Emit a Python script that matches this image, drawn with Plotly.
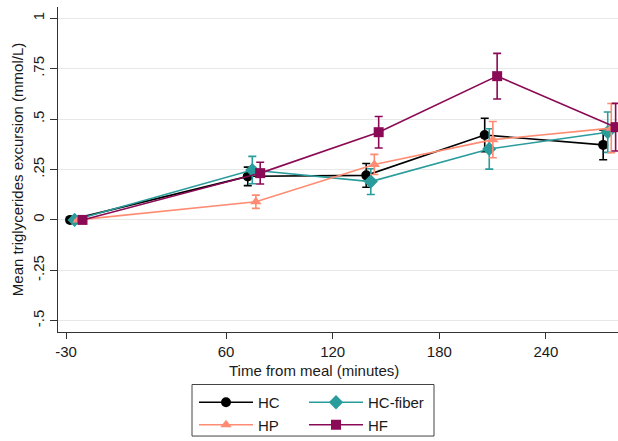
import plotly.graph_objects as go

# ---- data ----
times = [-30, 60, 120, 180, 240]
series_names = ["HC", "HC-fiber", "HP", "HF"]
hc_mean = [0.0, 0.216, 0.221, 0.421, 0.372]
hc_err = [0.0, 0.046, 0.059, 0.083, 0.074]
hcf_mean = [0.0, 0.247, 0.190, 0.352, 0.435]
hcf_err = [0.0, 0.068, 0.064, 0.100, 0.100]
hp_mean = [0.0, 0.090, 0.275, 0.398, 0.455]
hp_err = [0.0, 0.033, 0.050, 0.090, 0.122]
hf_mean = [0.0, 0.232, 0.435, 0.713, 0.460]
hf_err = [0.0, 0.054, 0.078, 0.113, 0.118]
x_tick_labels = ["-30", "60", "120", "180", "240"]
y_tick_vals = [-0.5, -0.25, 0, 0.25, 0.5, 0.75, 1]
y_tick_labels = ["-.5", "-.25", "0", ".25", ".5", ".75", "1"]
x_title = "Time from meal (minutes)"
y_title = "Mean triglycerides excursion (mmol/L)"

# ---- style ----
offsets = {"HC": 0.0, "HC-fiber": 2.3, "HP": 4.1, "HF": 6.3}
colors = {"HC": "#000000", "HC-fiber": "#2A9C9C", "HP": "#FF8C72", "HF": "#8B0A55"}
symbols = {"HC": "circle", "HC-fiber": "diamond", "HP": "triangle-up", "HF": "square"}
sizes = {"HC": 10, "HC-fiber": 11, "HP": 10, "HF": 10}
legend_of = {"HC": "legend", "HC-fiber": "legend2", "HP": "legend", "HF": "legend2"}

data = {
    "HC": (hc_mean, hc_err),
    "HC-fiber": (hcf_mean, hcf_err),
    "HP": (hp_mean, hp_err),
    "HF": (hf_mean, hf_err),
}

fig = go.Figure()
for name in series_names:
    m, e = data[name]
    fig.add_trace(go.Scatter(
        x=[t + offsets[name] for t in times],
        y=m,
        mode="lines+markers",
        name=name,
        legend=legend_of[name],
        line=dict(color=colors[name], width=1.6),
        marker=dict(symbol=symbols[name], size=sizes[name], color=colors[name],
                    line=dict(width=0)),
        error_y=dict(type="data", array=e, visible=True, color=colors[name],
                     thickness=1.6, width=4),
        cliponaxis=False,
    ))

W, H = 618, 441
L, R, T, B = 58, 0, 7, 106
pw = W - L - R
ph = H - T - B

def px(xp):
    return (xp - L) / pw

def py(yp):
    return (H - B - yp) / ph

font = "Liberation Sans, Arial, sans-serif"
tc = "#1a1a1a"

fig.update_layout(
    width=W, height=H,
    margin=dict(l=L, r=R, t=T, b=B, pad=0),
    paper_bgcolor="white", plot_bgcolor="white",
    font=dict(family=font, size=15, color=tc),
    showlegend=True,
    legend=dict(x=px(194), y=py(390), xanchor="left", yanchor="top",
                bgcolor="rgba(0,0,0,0)", borderwidth=0, itemwidth=54,
                font=dict(size=15, color=tc), tracegroupgap=0),
    legend2=dict(x=px(304), y=py(390), xanchor="left", yanchor="top",
                 bgcolor="rgba(0,0,0,0)", borderwidth=0, itemwidth=54,
                 font=dict(size=15, color=tc), tracegroupgap=0),
    shapes=[dict(type="rect", xref="paper", yref="paper",
                 x0=px(192), x1=px(434), y0=py(440), y1=py(388),
                 line=dict(color="#444444", width=1), fillcolor="rgba(0,0,0,0)")],
    annotations=[dict(text=x_title, xref="paper", yref="paper",
                      x=px(314), y=py(374), xanchor="center", yanchor="middle",
                      showarrow=False, font=dict(size=15, color=tc))],
)

fig.update_xaxes(
    range=[-36.1, 247.5],
    tickmode="array",
    tickvals=[-32, 49, 103, 157, 211],
    ticktext=x_tick_labels,
    showgrid=False, zeroline=False,
    showline=True, linecolor="#333333", linewidth=1.2,
    ticks="outside", ticklen=6, tickcolor="#333333", tickwidth=1.2,
    tickfont=dict(size=15, color=tc),
)
fig.update_yaxes(
    range=[-0.556, 1.056],
    tickmode="array",
    tickvals=y_tick_vals,
    ticktext=y_tick_labels,
    tickangle=-90,
    showgrid=True, gridcolor="#E8E8E8", gridwidth=1,
    zeroline=False,
    showline=True, linecolor="#333333", linewidth=1.2,
    ticks="outside", ticklen=7, tickcolor="#333333", tickwidth=1.2,
    tickfont=dict(size=15, color=tc),
    title=dict(text=y_title, standoff=2,
               font=dict(size=15, color=tc)),
)

fig.write_html("out.html")
